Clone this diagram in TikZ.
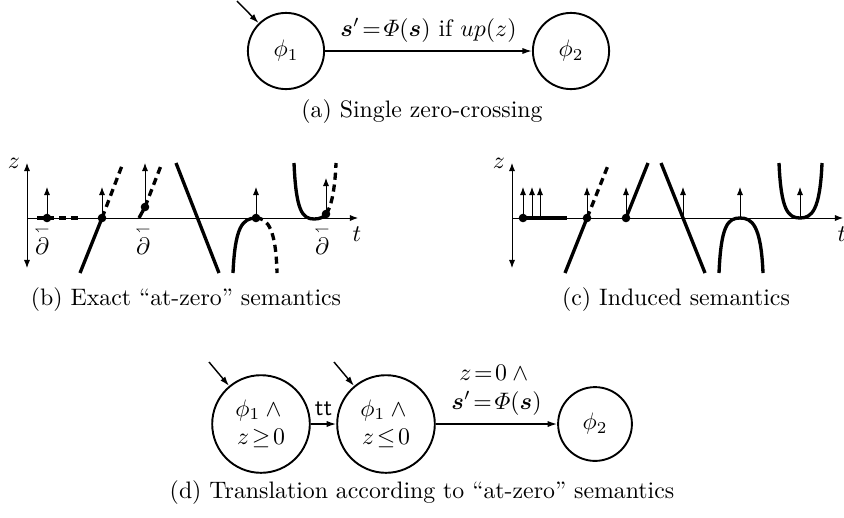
\documentclass[tikz,border=0pt]{standalone}
\usepackage{amsmath,amssymb}
\usepackage{bm}
\usetikzlibrary{arrows.meta,positioning}
\newcommand{\bdpart}{\overset{\scriptscriptstyle\leftharpoondown}{\partial}}

\begin{document}
\begin{tikzpicture}[x=0.42pt,y=-0.42pt,
  state/.style={circle,draw,line width=0.8pt,minimum size=32pt,inner sep=0pt,align=center},
  trans/.style={-{Latex[length=4pt,width=2.6pt]},line width=0.6pt},
  axis/.style={line width=0.4pt},
  up/.style={-{Latex[length=3.4pt,width=2.6pt]},line width=0.4pt},
  curve/.style={line width=1.4pt},
  dcurve/.style={curve,dash pattern=on 3pt off 2pt},
  dot/.style={circle,fill,inner sep=0pt,minimum size=3.6pt}]
\useasboundingbox (0,0) rectangle (844,517);

% (a) single zero-crossing
\node[state] (a1) at (286,51) {$\phi_1$};
\node[state] (a2) at (571,51) {$\phi_2$};
\coordinate (a0) at (237,1);
\draw[trans] (a0) -- (a1);
\draw[trans] (a1) -- node[above] {$\bm{s}'\!=\!\varPhi(\bm{s})$ if $up(z)$} (a2);
\node (capa) at (422,112) {(a) Single zero-crossing};

% (b) exact semantics
\draw[axis,{Latex[length=3.4pt,width=2.6pt]}-{Latex[length=3.4pt,width=2.6pt]}] (27,163) -- (27,268);
\draw[axis,-{Latex[length=3.4pt,width=2.6pt]}] (27,218) -- (358,218);
\node (bz) at (14,163) {$z$};
\node (bt) at (357,234) {$t$};
\draw[curve] (37,218) -- (47,218);
\draw[dcurve] (47,218) -- (80,218);
\draw[up] (47,218) -- (47,187);
\node[dot] (b1) at (47,218) {};
\node (bd1) at (42,240) {$\bdpart$};
\draw[curve] (80,273) -- (102,218);
\draw[dcurve] (102,218) -- (123,163);
\draw[up] (102,218) -- (102,187);
\node[dot] (b2) at (102,218) {};
\draw[curve] (139,218) -- (145,207);
\draw[dcurve] (145,207) -- (162,163);
\draw[up] (145,207) -- (145,163);
\node[dot] (b3) at (145,207) {};
\node (bd2) at (143,240) {$\bdpart$};
\draw[curve] (176,163) -- (219,273);
\draw[curve] (233,273) .. controls (235,228) and (242,218) .. (256,218);
\draw[dcurve] (256,218) .. controls (268,218) and (276,230) .. (277,273);
\draw[up] (256,218) -- (256,187);
\node[dot] (b4) at (256,218) {};
\draw[curve] (294,163) .. controls (296,210) and (302,219) .. (314,219) .. controls (320,219) and (324,217) .. (326,214);
\draw[dcurve] (326,214) .. controls (331,208) and (335,190) .. (336,163);
\draw[up] (326,214) -- (326,178);
\node[dot] (b5) at (326,214) {};
\node (bd3) at (322,240) {$\bdpart$};
\node (capb) at (186,300) {(b) Exact ``at-zero'' semantics};

% (c) induced semantics
\draw[axis,{Latex[length=3.4pt,width=2.6pt]}-{Latex[length=3.4pt,width=2.6pt]}] (512,163) -- (512,268);
\draw[axis,-{Latex[length=3.4pt,width=2.6pt]}] (512,218) -- (843,218);
\node (cz) at (499,163) {$z$};
\node (ct) at (842,234) {$t$};
\foreach \x in {523,532,540}
  \draw[up] (\x,218) -- (\x,187);
\draw[curve] (523,218) -- (567,218);
\node[dot] (c1) at (523,218) {};
\draw[curve] (565,273) -- (587,218);
\draw[dcurve] (587,218) -- (609,163);
\draw[up] (587,218) -- (587,187);
\node[dot] (c2) at (587,218) {};
\draw[curve] (626,218) -- (648,163);
\draw[up] (626,218) -- (626,187);
\node[dot] (c3) at (626,218) {};
\draw[curve] (661,163) -- (705,273);
\draw[up] (683,218) -- (683,187);
\draw[curve] (719,273) .. controls (721,225) and (728,218) .. (740,218) .. controls (752,218) and (761,225) .. (763,273);
\draw[up] (740,218) -- (740,187);
\draw[curve] (779,163) .. controls (781,210) and (788,218) .. (800,218) .. controls (812,218) and (820,210) .. (822,163);
\draw[up] (800,218) -- (800,187);
\node (capc) at (676,300) {(c) Induced semantics};

% (d) translation
\node[state,minimum size=41pt] (d1) at (261,424) {$\phi_1\wedge{}$\\$z\!\geq\!0$};
\node[state,minimum size=41pt] (d2) at (386,424) {$\phi_1\wedge{}$\\$z\!\leq\!0$};
\node[state,minimum size=31pt] (d3) at (595,424) {$\phi_2$};
\coordinate (d0) at (209,362);
\coordinate (d0b) at (334,362);
\draw[trans] (d0) -- (d1);
\draw[trans] (d0b) -- (d2);
\draw[trans] (d1) -- node[above] {\textsf{tt}} (d2);
\draw[trans] (d2) -- node[above,align=center] {$z\!=\!0\wedge{}$\\$\bm{s}'\!=\!\varPhi(\bm{s})$} (d3);
\node (capd) at (422,493) {(d) Translation according to ``at-zero'' semantics};
\end{tikzpicture}
\end{document}
